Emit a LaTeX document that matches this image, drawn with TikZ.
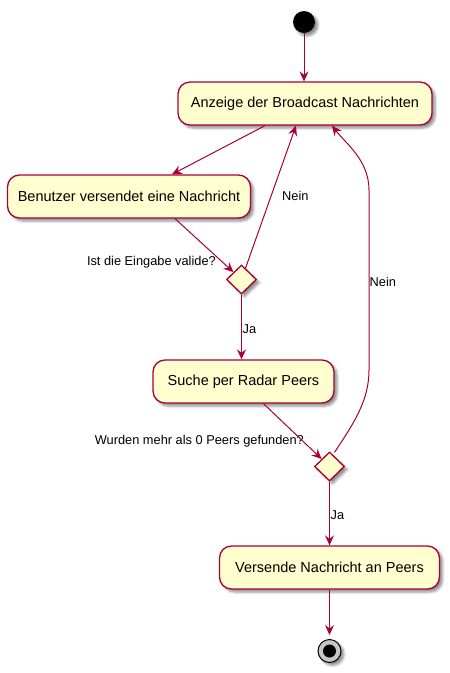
\documentclass[tikz,border=0pt]{standalone}
\usepackage{fontspec}
\setmainfont{Liberation Sans}
\usepackage{tikz}
\usetikzlibrary{arrows.meta,shapes,shadows.blur}
\definecolor{umlred}{HTML}{A80036}
\definecolor{umlfill}{HTML}{FEFECE}

\begin{document}
\begin{tikzpicture}
	[x=1pt,y=-1pt,
	umlshadow/.style={blur shadow={shadow xshift=3pt,shadow yshift=-3pt,shadow blur radius=2.5pt,shadow opacity=45}},
	act/.style={shape=rectangle,rounded corners=12pt,draw=umlred,fill=umlfill,line width=1.3pt,
		minimum height=43pt,inner sep=0pt,font=\fontsize{14.5}{17}\selectfont,umlshadow},
	choice/.style={shape=diamond,draw=umlred,fill=umlfill,line width=1.3pt,
		minimum width=30pt,minimum height=29pt,inner sep=0pt,umlshadow},
	lbl/.style={inner sep=0pt,font=\fontsize{12.8}{15}\selectfont},
	arc/.style={-{Stealth[length=10pt,width=9pt,inset=3.5pt]},draw=umlred,line width=1pt}]
	\useasboundingbox (0,0) rectangle (450,673);
	
	\node (start) [circle,fill=black,minimum size=22pt,inner sep=0pt,umlshadow] at (304,22) {};
	\node (anz) [act,minimum width=254pt] at (305,103.5) {Anzeige der Broadcast Nachrichten};
	\node (ben) [act,minimum width=243pt] at (129,196.5) {Benutzer versendet eine Nachricht};
	\node (valid) [choice] at (241.5,279.5) {};
	\node (such) [act,minimum width=181pt] at (243.5,381.5) {Suche per Radar Peers};
	\node (peers) [choice] at (329.5,466.5) {};
	\node (send) [act,minimum width=220pt] at (329.5,567.5) {Versende Nachricht an Peers};
	\node (stop) [circle,draw=black,fill=gray!45,line width=1pt,minimum size=23pt,inner sep=0pt,umlshadow] at (329.5,651) {};
	\node (stopin) [circle,fill=black,minimum size=13pt,inner sep=0pt] at (329.5,651) {};
	
	\node (qvalid) [lbl,anchor=base east] at (216,265) {Ist die Eingabe valide?};
	\node (nein1) [lbl,anchor=base west] at (282,200) {Nein};
	\node (ja1) [lbl,anchor=base west] at (242.5,333) {Ja};
	\node (qpeers) [lbl,anchor=base east] at (304,444.5) {Wurden mehr als 0 Peers gefunden?};
	\node (nein2) [lbl,anchor=base west] at (369.5,286) {Nein};
	\node (ja2) [lbl,anchor=base west] at (330.5,519.5) {Ja};
	
	\coordinate (rlow) at (369,370);
	\coordinate (rhigh) at (369,190);
	
	\draw [arc] (start) -- (start |- anz.north);
	\draw [arc] ([xshift=-40pt]anz.south) -- ([xshift=43pt]ben.north);
	\draw [arc] ([xshift=46pt]ben.south) -- (valid);
	\draw [arc] (valid) -- ([xshift=-9pt]anz.south);
	\draw [arc] (valid) -- (valid |- such.north);
	\draw [arc] ([xshift=20pt]such.south) -- (peers);
	\draw [arc] ([xshift=5pt,yshift=-1pt]peers.north) .. controls +(20,-30) and +(0,30) .. (rlow)
		-- (rhigh) .. controls +(0,-30) and +(13,17) .. ([xshift=27pt]anz.south);
	\draw [arc] (peers) -- (peers |- send.north);
	\draw [arc,shorten >=4pt] (send) -- (stop);
\end{tikzpicture}
\end{document}
